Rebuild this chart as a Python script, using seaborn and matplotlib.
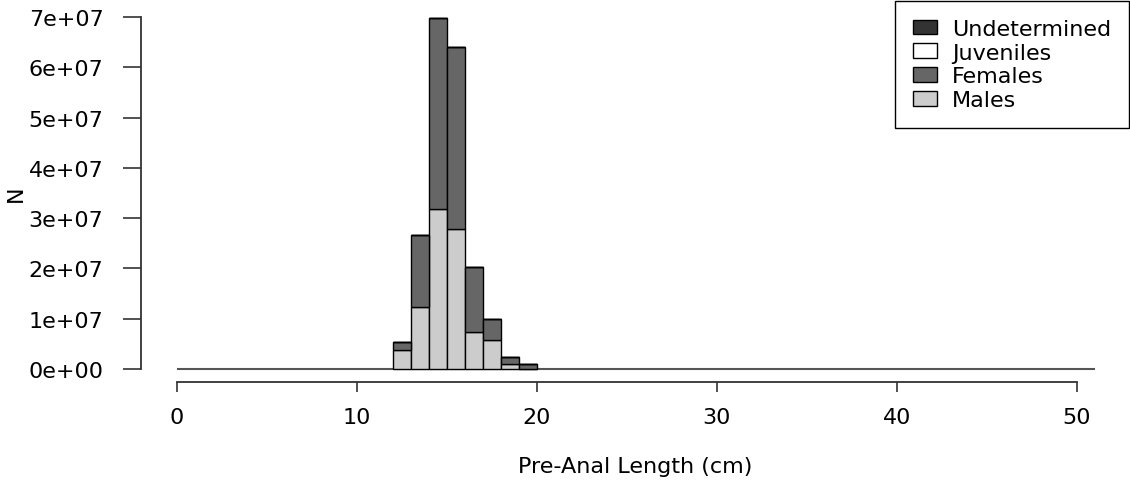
from matplotlib import pyplot as plt
from matplotlib.patches import Patch
import pandas as pd
import seaborn as sns
import numpy as np

# Length classes (cm, left edge of 1 cm bins) and numbers per group
length = [12, 13, 14, 15, 16, 17, 18, 19]
males = [3.8e6, 1.24e7, 3.19e7, 2.78e7, 7.4e6, 5.8e6, 1.0e6, 0.0]
females = [1.6e6, 1.42e7, 3.79e7, 3.63e7, 1.29e7, 4.1e6, 1.4e6, 1.0e6]
juveniles = [0, 0, 0, 0, 0, 0, 0, 0]
undetermined = [0, 0, 0, 0, 0, 0, 0, 0]

groups = ["Undetermined", "Juveniles", "Females", "Males"]
colours = {"Undetermined": "#333333", "Juveniles": "#ffffff",
           "Females": "#666666", "Males": "#cccccc"}

rows = []
for g, vals in zip(groups, [undetermined, juveniles, females, males]):
    for l, v in zip(length, vals):
        rows.append({"length": l + 0.5, "N": float(v), "group": g})
df = pd.DataFrame(rows)

sns.set_style("white")
plt.rcParams["font.family"] = ["DejaVu Sans"]
fs = 16

fig = plt.figure(figsize=(11.3, 4.85), dpi=100)
ax = fig.add_axes([141 / 1130, 102 / 485, 988 / 1130, 381 / 485])

sns.histplot(data=df, x="length", weights="N", hue="group", hue_order=groups,
             multiple="stack", binwidth=1, binrange=(12, 20), palette=colours,
             edgecolor="black", linewidth=1, alpha=1, legend=False, ax=ax)

# zero line
ax.hlines(0, 0, 51, color="#555555", linewidth=1.5, zorder=0.5)

ax.set_xlim(-2, 52.9)
ax.set_ylim(-0.26e7, 7.32e7)

for s in ["top", "right"]:
    ax.spines[s].set_visible(False)
ax.spines["left"].set_bounds(0, 7e7)
ax.spines["bottom"].set_bounds(0, 50)
for s in ["left", "bottom"]:
    ax.spines[s].set_color("#333333")
    ax.spines[s].set_linewidth(1.3)

ax.set_yticks(np.arange(0, 8e7, 1e7))
ax.set_yticklabels(["%de+0%d" % (i, 7 if i else 0) for i in range(8)])
ax.set_xticks([0, 10, 20, 30, 40, 50])
ax.tick_params(axis="y", length=13, width=1.2, color="#333333", labelsize=fs,
               pad=14, left=True, labelcolor="black")
ax.tick_params(axis="x", length=7, width=1.2, color="#333333", labelsize=fs,
               pad=11, bottom=True, labelcolor="black")

ax.set_xlabel("Pre-Anal Length (cm)", fontsize=fs, color="black")
ax.set_ylabel("N", fontsize=fs, color="black")
ax.xaxis.set_label_coords(0.5005, -0.194)
ax.yaxis.set_label_coords(-0.117, 0.496)

handles = [Patch(facecolor=colours[g], edgecolor="black", linewidth=1, label=g) for g in groups]
leg = ax.legend(handles=handles, loc="upper right", bbox_to_anchor=(1.0, 1.0),
                fontsize=fs, frameon=True, fancybox=False, borderpad=0.8,
                labelspacing=0.17, handlelength=1.05, handleheight=0.63, handletextpad=0.7,
                borderaxespad=0, labelcolor="black")
leg.get_frame().set_edgecolor("black")
leg.get_frame().set_linewidth(1)
leg.get_frame().set_alpha(1)

plt.savefig("out.png", dpi=100)
